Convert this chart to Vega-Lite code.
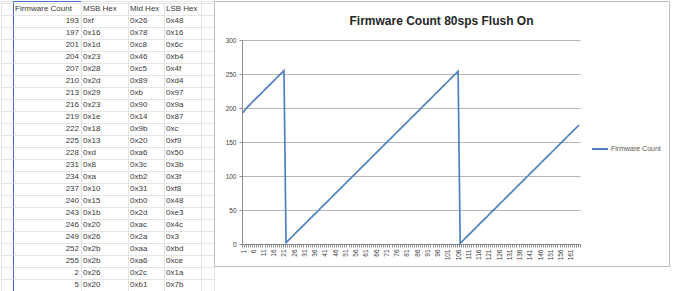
{
  "$schema": "https://vega.github.io/schema/vega-lite/v6.json",
  "background": "white",
  "padding": 0,
  "spacing": 0,
  "bounds": "flush",
  "config": {
    "font": "Liberation Sans",
    "axis": {"labelFont": "Liberation Sans", "labelColor": "#404040"},
    "text": {"font": "Liberation Sans", "fontSize": 8, "color": "#3a3a3a", "baseline": "middle"}
  },
  "datasets": {
    "table": [
      {"r": 1, "fc": "Firmware Count", "msb": "MSB Hex", "mid": "Mid Hex", "lsb": "LSB Hex"},
      {"r": 2, "fc": 193, "msb": "0xf", "mid": "0x26", "lsb": "0x48"},
      {"r": 3, "fc": 197, "msb": "0x16", "mid": "0x78", "lsb": "0x16"},
      {"r": 4, "fc": 201, "msb": "0x1d", "mid": "0xc8", "lsb": "0x6c"},
      {"r": 5, "fc": 204, "msb": "0x23", "mid": "0x46", "lsb": "0xb4"},
      {"r": 6, "fc": 207, "msb": "0x28", "mid": "0xc5", "lsb": "0x4f"},
      {"r": 7, "fc": 210, "msb": "0x2d", "mid": "0x89", "lsb": "0xd4"},
      {"r": 8, "fc": 213, "msb": "0x29", "mid": "0xb", "lsb": "0x97"},
      {"r": 9, "fc": 216, "msb": "0x23", "mid": "0x90", "lsb": "0x9a"},
      {"r": 10, "fc": 219, "msb": "0x1e", "mid": "0x14", "lsb": "0x87"},
      {"r": 11, "fc": 222, "msb": "0x18", "mid": "0x9b", "lsb": "0xc"},
      {"r": 12, "fc": 225, "msb": "0x13", "mid": "0x20", "lsb": "0xf9"},
      {"r": 13, "fc": 228, "msb": "0xd", "mid": "0xa6", "lsb": "0x50"},
      {"r": 14, "fc": 231, "msb": "0x8", "mid": "0x3c", "lsb": "0x3b"},
      {"r": 15, "fc": 234, "msb": "0xa", "mid": "0xb2", "lsb": "0x3f"},
      {"r": 16, "fc": 237, "msb": "0x10", "mid": "0x31", "lsb": "0xf8"},
      {"r": 17, "fc": 240, "msb": "0x15", "mid": "0xb0", "lsb": "0x48"},
      {"r": 18, "fc": 243, "msb": "0x1b", "mid": "0x2d", "lsb": "0xe3"},
      {"r": 19, "fc": 246, "msb": "0x20", "mid": "0xac", "lsb": "0x4c"},
      {"r": 20, "fc": 249, "msb": "0x26", "mid": "0x2a", "lsb": "0x3"},
      {"r": 21, "fc": 252, "msb": "0x2b", "mid": "0xaa", "lsb": "0xbd"},
      {"r": 22, "fc": 255, "msb": "0x2b", "mid": "0xa6", "lsb": "0xce"},
      {"r": 23, "fc": 2, "msb": "0x26", "mid": "0x2c", "lsb": "0x1a"},
      {"r": 24, "fc": 5, "msb": "0x20", "mid": "0xb1", "lsb": "0x7b"}
    ],
    "line": [
      {"i":1,"v":193},{"i":2,"v":197},{"i":3,"v":201},{"i":4,"v":204},{"i":5,"v":207},{"i":6,"v":210},{"i":7,"v":213},{"i":8,"v":216},{"i":9,"v":219},{"i":10,"v":222},
      {"i":11,"v":225},{"i":12,"v":228},{"i":13,"v":231},{"i":14,"v":234},{"i":15,"v":237},{"i":16,"v":240},{"i":17,"v":243},{"i":18,"v":246},{"i":19,"v":249},{"i":20,"v":252},
      {"i":21,"v":255},{"i":22,"v":2},{"i":23,"v":5},{"i":24,"v":8},{"i":25,"v":11},{"i":26,"v":14},{"i":27,"v":17},{"i":28,"v":20},{"i":29,"v":23},{"i":30,"v":26},
      {"i":31,"v":29},{"i":32,"v":32},{"i":33,"v":35},{"i":34,"v":38},{"i":35,"v":41},{"i":36,"v":44},{"i":37,"v":47},{"i":38,"v":50},{"i":39,"v":53},{"i":40,"v":56},
      {"i":41,"v":59},{"i":42,"v":62},{"i":43,"v":65},{"i":44,"v":68},{"i":45,"v":71},{"i":46,"v":74},{"i":47,"v":77},{"i":48,"v":80},{"i":49,"v":83},{"i":50,"v":86},
      {"i":51,"v":89},{"i":52,"v":92},{"i":53,"v":95},{"i":54,"v":98},{"i":55,"v":101},{"i":56,"v":104},{"i":57,"v":107},{"i":58,"v":110},{"i":59,"v":113},{"i":60,"v":116},
      {"i":61,"v":119},{"i":62,"v":122},{"i":63,"v":125},{"i":64,"v":128},{"i":65,"v":131},{"i":66,"v":134},{"i":67,"v":137},{"i":68,"v":140},{"i":69,"v":143},{"i":70,"v":146},
      {"i":71,"v":149},{"i":72,"v":152},{"i":73,"v":155},{"i":74,"v":158},{"i":75,"v":161},{"i":76,"v":164},{"i":77,"v":167},{"i":78,"v":170},{"i":79,"v":173},{"i":80,"v":176},
      {"i":81,"v":179},{"i":82,"v":182},{"i":83,"v":185},{"i":84,"v":188},{"i":85,"v":191},{"i":86,"v":194},{"i":87,"v":197},{"i":88,"v":200},{"i":89,"v":203},{"i":90,"v":206},
      {"i":91,"v":209},{"i":92,"v":212},{"i":93,"v":215},{"i":94,"v":218},{"i":95,"v":221},{"i":96,"v":224},{"i":97,"v":227},{"i":98,"v":230},{"i":99,"v":233},{"i":100,"v":236},
      {"i":101,"v":239},{"i":102,"v":242},{"i":103,"v":245},{"i":104,"v":248},{"i":105,"v":251},{"i":106,"v":254},{"i":107,"v":1},{"i":108,"v":4},{"i":109,"v":7},{"i":110,"v":10},
      {"i":111,"v":13},{"i":112,"v":16},{"i":113,"v":19},{"i":114,"v":22},{"i":115,"v":25},{"i":116,"v":28},{"i":117,"v":31},{"i":118,"v":34},{"i":119,"v":37},{"i":120,"v":40},
      {"i":121,"v":43},{"i":122,"v":46},{"i":123,"v":49},{"i":124,"v":52},{"i":125,"v":55},{"i":126,"v":58},{"i":127,"v":61},{"i":128,"v":64},{"i":129,"v":67},{"i":130,"v":70},
      {"i":131,"v":73},{"i":132,"v":76},{"i":133,"v":79},{"i":134,"v":82},{"i":135,"v":85},{"i":136,"v":88},{"i":137,"v":91},{"i":138,"v":94},{"i":139,"v":97},{"i":140,"v":100},
      {"i":141,"v":103},{"i":142,"v":106},{"i":143,"v":109},{"i":144,"v":112},{"i":145,"v":115},{"i":146,"v":118},{"i":147,"v":121},{"i":148,"v":124},{"i":149,"v":127},{"i":150,"v":130},
      {"i":151,"v":133},{"i":152,"v":136},{"i":153,"v":139},{"i":154,"v":142},{"i":155,"v":145},{"i":156,"v":148},{"i":157,"v":151},{"i":158,"v":154},{"i":159,"v":157},{"i":160,"v":160},
      {"i":161,"v":163},{"i":162,"v":166},{"i":163,"v":169},{"i":164,"v":172},{"i":165,"v":175}
    ]
  },
  "hconcat": [
    {
      "width": 12, "height": 291,
      "view": {"stroke": "#e4e4e4"},
      "data": {"name": "table"},
      "mark": {"type": "text"},
      "encoding": {
        "x": {"value": 0},
        "text": {"value": ""},
        "y": {"field": "r", "type": "ordinal", "scale": {"type": "band", "range": [2, 290], "paddingInner": 0, "paddingOuter": 0}, "axis": {"title": null, "labels": false, "ticks": false, "domain": false, "grid": true, "tickBand": "extent", "gridColor": "#e4e4e4"}}
      }
    },
    {
      "width": 68, "height": 291,
      "view": {"stroke": "#4a6cc8"},
      "data": {"name": "table"},
      "encoding": {
        "y": {"field": "r", "type": "ordinal", "scale": {"type": "band", "range": [2, 290], "paddingInner": 0, "paddingOuter": 0}, "axis": {"title": null, "labels": false, "ticks": false, "domain": false, "grid": true, "tickBand": "extent", "gridColor": "#e4e4e4"}}
      },
      "layer": [
        {
          "transform": [{"filter": "datum.r == 1"}],
          "mark": {"type": "text", "align": "left", "dx": 2},
          "encoding": {"x": {"value": 0}, "text": {"field": "fc"}}
        },
        {
          "transform": [{"filter": "datum.r > 1"}],
          "mark": {"type": "text", "align": "right", "dx": -2},
          "encoding": {"x": {"value": "width"}, "text": {"field": "fc"}}
        }
      ]
    },
    {
      "width": 47, "height": 291,
      "view": {"stroke": "#e4e4e4"},
      "data": {"name": "table"},
      "mark": {"type": "text", "align": "left", "dx": 2},
      "encoding": {
        "x": {"value": 0},
        "text": {"field": "msb"},
        "y": {"field": "r", "type": "ordinal", "scale": {"type": "band", "range": [2, 290], "paddingInner": 0, "paddingOuter": 0}, "axis": {"title": null, "labels": false, "ticks": false, "domain": false, "grid": true, "tickBand": "extent", "gridColor": "#e4e4e4"}}
      }
    },
    {
      "width": 36, "height": 291,
      "view": {"stroke": "#e4e4e4"},
      "data": {"name": "table"},
      "mark": {"type": "text", "align": "left", "dx": 2},
      "encoding": {
        "x": {"value": 0},
        "text": {"field": "mid"},
        "y": {"field": "r", "type": "ordinal", "scale": {"type": "band", "range": [2, 290], "paddingInner": 0, "paddingOuter": 0}, "axis": {"title": null, "labels": false, "ticks": false, "domain": false, "grid": true, "tickBand": "extent", "gridColor": "#e4e4e4"}}
      }
    },
    {
      "width": 37, "height": 291,
      "view": {"stroke": "#e4e4e4"},
      "data": {"name": "table"},
      "mark": {"type": "text", "align": "left", "dx": 2},
      "encoding": {
        "x": {"value": 0},
        "text": {"field": "lsb"},
        "y": {"field": "r", "type": "ordinal", "scale": {"type": "band", "range": [2, 290], "paddingInner": 0, "paddingOuter": 0}, "axis": {"title": null, "labels": false, "ticks": false, "domain": false, "grid": true, "tickBand": "extent", "gridColor": "#e4e4e4"}}
      }
    },
    {
      "width": 13, "height": 291,
      "view": {"stroke": "#e4e4e4"},
      "data": {"name": "table"},
      "mark": {"type": "text"},
      "encoding": {
        "x": {"value": 0},
        "text": {"value": ""},
        "y": {"field": "r", "type": "ordinal", "scale": {"type": "band", "range": [2, 290], "paddingInner": 0, "paddingOuter": 0}, "axis": {"title": null, "labels": false, "ticks": false, "domain": false, "grid": true, "tickBand": "extent", "gridColor": "#e4e4e4"}}
      }
    },
    {
      "width": 455, "height": 265,
      "view": {"stroke": "#bdbdbd", "fill": "white"},
      "title": {"text": "Firmware Count 80sps Flush On", "font": "Liberation Sans", "fontSize": 12, "fontWeight": "bold", "color": "#262626", "anchor": "middle", "frame": "group", "offset": -36, "baseline": "alphabetic"},
      "data": {"name": "line"},
      "mark": {"type": "line", "strokeWidth": 1.7},
      "encoding": {
        "x": {
          "field": "i", "type": "ordinal",
          "scale": {"type": "band", "range": [28, 366], "paddingInner": 0, "paddingOuter": 0},
          "axis": {"title": null, "offset": -22, "tickBand": "extent", "labelExpr": "(datum.value - 1) % 5 == 0 ? datum.label : ''", "labelAngle": 270, "labelFontSize": 6.5, "labelOverlap": false, "labelPadding": 2, "tickSize": 3, "tickColor": "#8c8c8c", "domainColor": "#8c8c8c", "grid": false}
        },
        "y": {
          "field": "v", "type": "quantitative",
          "scale": {"domain": [0, 300], "range": [243, 39], "nice": false, "zero": true},
          "axis": {"title": null, "offset": -28, "values": [0, 50, 100, 150, 200, 250, 300], "grid": true, "gridColor": "#b5b5b5", "domainColor": "#8c8c8c", "tickColor": "#8c8c8c", "tickSize": 3, "labelFontSize": 6.5, "labelPadding": 3}
        },
        "color": {
          "datum": "Firmware Count",
          "scale": {"range": ["#4F81BD"]},
          "legend": {"orient": "none", "legendX": 590, "legendY": 139, "title": null, "symbolType": "stroke", "symbolSize": 256, "symbolStrokeWidth": 2, "labelFontSize": 7, "labelColor": "#595959", "labelFont": "Liberation Sans", "labelOffset": 2}
        }
      }
    }
  ]
}
